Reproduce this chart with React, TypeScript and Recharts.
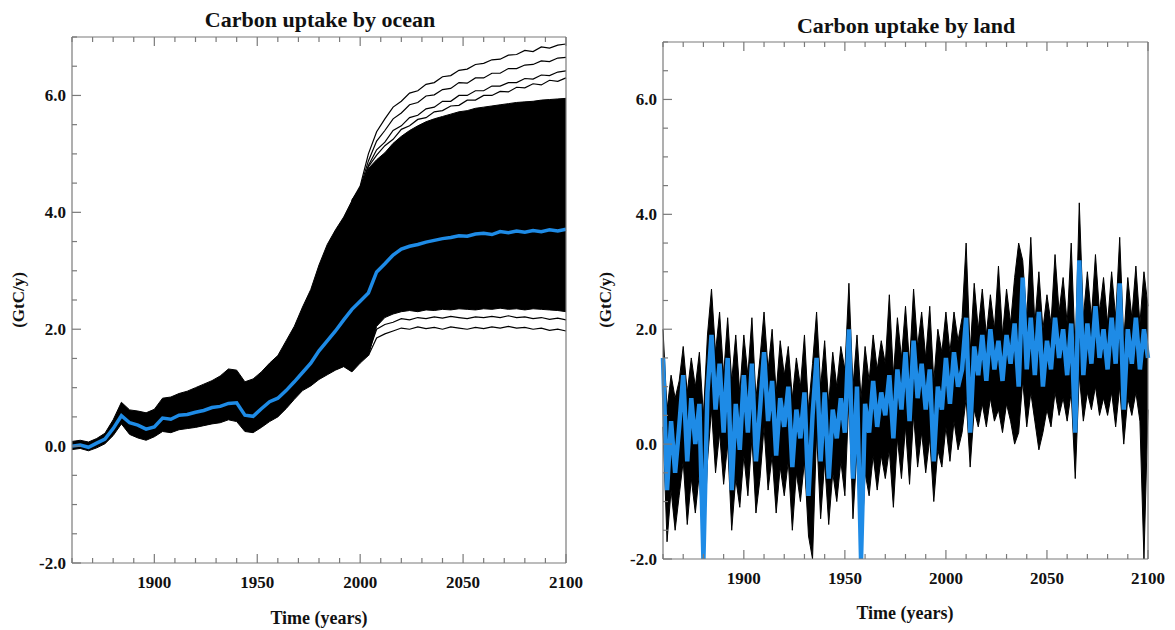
import { ComposedChart, Line, Area, XAxis, YAxis } from "recharts";

const FONT = "'Liberation Serif', 'Times New Roman', serif";
const FRAME = "#7a7a7a";
const BLUE = "#1e8be6";
const INK = "#111";

// axis ticks (minor every 10 years / 0.5 GtC, labels on the major ones)
const YEAR_TICKS = [1860, 1870, 1880, 1890, 1900, 1910, 1920, 1930, 1940, 1950, 1960, 1970, 1980, 1990, 2000, 2010, 2020, 2030, 2040, 2050, 2060, 2070, 2080, 2090, 2100];
const YEAR_LABELS = [1900, 1950, 2000, 2050, 2100];
const VALUE_TICKS = [-2, -1.5, -1, -0.5, 0, 0.5, 1, 1.5, 2, 2.5, 3, 3.5, 4, 4.5, 5, 5.5, 6, 6.5, 7];
const VALUE_LABELS = [-2, 0, 2, 4, 6];

// ---- ocean panel: every 4 years, 1860..2100
const oceanYears = Array.from({ length: 61 }, (_, i) => 1860 + i * 4);
const oceanMean = [
  0.0, 0.02, -0.02, 0.05, 0.12, 0.3, 0.52, 0.4, 0.36, 0.29,
  0.33, 0.48, 0.46, 0.53, 0.54, 0.58, 0.61, 0.66, 0.68, 0.73,
  0.74, 0.53, 0.51, 0.64, 0.76, 0.82, 0.95, 1.1, 1.26, 1.42,
  1.63, 1.8, 1.97, 2.16, 2.34, 2.48, 2.62, 2.98, 3.12, 3.27,
  3.37, 3.42, 3.45, 3.49, 3.52, 3.55, 3.57, 3.6, 3.59, 3.63,
  3.64, 3.62, 3.67, 3.65, 3.68, 3.66, 3.69, 3.67, 3.7, 3.68,
  3.71,
];
const oceanHigh = [
  0.08, 0.1, 0.07, 0.13, 0.22, 0.45, 0.75, 0.62, 0.6, 0.57,
  0.63, 0.82, 0.84, 0.9, 0.94, 1.0, 1.06, 1.12, 1.2, 1.32,
  1.3, 1.1, 1.15, 1.27, 1.42, 1.55, 1.8, 2.05, 2.38, 2.68,
  3.1, 3.45, 3.7, 3.92, 4.2, 4.4, 4.75, 4.9, 5.02, 5.18,
  5.3, 5.4, 5.48, 5.55, 5.6, 5.64, 5.68, 5.72, 5.74, 5.78,
  5.8, 5.82, 5.84, 5.86, 5.88, 5.89, 5.9, 5.92, 5.93, 5.94,
  5.95,
];
const oceanLow = [
  -0.06, -0.04, -0.08, -0.03, 0.04, 0.18, 0.38, 0.2, 0.14, 0.1,
  0.16, 0.25, 0.23, 0.28, 0.3, 0.32, 0.35, 0.38, 0.4, 0.45,
  0.42, 0.25, 0.23, 0.32, 0.42, 0.5, 0.64, 0.8, 0.95, 1.03,
  1.14, 1.22, 1.3, 1.36, 1.27, 1.42, 1.55, 2.05, 2.2, 2.26,
  2.3, 2.32, 2.3, 2.33, 2.32, 2.34, 2.33, 2.35, 2.34, 2.33,
  2.35, 2.34, 2.36, 2.34, 2.35, 2.33, 2.35, 2.34, 2.33, 2.32,
  2.3,
];

// outlying ensemble members that separate from the band after ~2000
const topYears = Array.from({ length: 27 }, (_, i) => 1996 + i * 4);
const oceanTop1 = [4.2, 4.45, 5.0, 5.38, 5.6, 5.8, 5.9, 6.04, 6.08, 6.19, 6.22, 6.32, 6.34, 6.43, 6.45, 6.53, 6.55, 6.61, 6.62, 6.69, 6.7, 6.77, 6.75, 6.83, 6.81, 6.86, 6.88];
const oceanTop2 = [4.2, 4.42, 4.88, 5.22, 5.4, 5.6, 5.7, 5.84, 5.88, 5.99, 6.01, 6.1, 6.12, 6.22, 6.21, 6.3, 6.3, 6.38, 6.38, 6.46, 6.46, 6.52, 6.53, 6.59, 6.58, 6.64, 6.65];
const oceanTop3 = [4.2, 4.4, 4.8, 5.07, 5.2, 5.4, 5.48, 5.62, 5.66, 5.77, 5.8, 5.9, 5.9, 6.0, 6.0, 6.08, 6.08, 6.16, 6.16, 6.22, 6.22, 6.29, 6.28, 6.35, 6.34, 6.4, 6.42];
const oceanTop4 = [4.2, 4.4, 4.78, 4.98, 5.14, 5.25, 5.42, 5.48, 5.59, 5.62, 5.72, 5.74, 5.82, 5.83, 5.92, 5.92, 6.0, 6.0, 6.07, 6.06, 6.14, 6.13, 6.2, 6.18, 6.26, 6.24, 6.3];
const lowYears = Array.from({ length: 25 }, (_, i) => 2004 + i * 4);
const oceanBottom1 = [1.55, 1.85, 1.92, 1.97, 2.02, 2.0, 2.04, 2.01, 2.03, 2.0, 2.04, 2.02, 2.0, 2.03, 2.01, 2.04, 2.02, 2.05, 2.02, 2.03, 2.0, 2.02, 1.98, 2.0, 1.97];
const oceanBottom2 = [1.6, 2.0, 2.08, 2.12, 2.18, 2.16, 2.2, 2.18, 2.21, 2.19, 2.22, 2.2, 2.18, 2.21, 2.2, 2.22, 2.2, 2.23, 2.2, 2.21, 2.18, 2.2, 2.17, 2.19, 2.16];

// ---- land panel: every 2 years, 1860..2100
const landYears = Array.from({ length: 121 }, (_, i) => 1860 + i * 2);
const landMean = [
  1.5, -0.8, 0.4, -0.5, 0.3, 1.2, -0.3, 0.8, 0.0, 0.7,
  -2.0, 0.9, 1.9, 0.6, 1.4, 0.2, 1.5, -0.8, 0.7, -0.1,
  1.2, 0.2, 1.4, -0.3, 0.6, 1.6, 0.4, 1.1, -0.2, 0.8,
  0.3, 1.0, -0.4, 0.6, 0.1, 0.9, -0.9, 0.5, 1.5, -0.3,
  0.9, -0.6, 0.6, 0.1, 0.8, 0.2, 2.0, -0.6, 1.0, -2.0,
  0.7, 0.2, 1.1, 0.3, 0.9, 0.5, 1.2, 0.1, 1.3, 0.6,
  1.6, 0.4, 1.8, 0.8, 1.4, 0.6, 1.3, -0.3, 1.0, 0.6,
  1.5, 0.7, 1.6, 1.0, 1.3, 2.2, 0.2, 1.7, 1.2, 1.9,
  1.1, 2.0, 1.3, 1.8, 1.1, 1.9, 1.4, 2.1, 1.0, 2.9,
  1.3, 2.2, 1.2, 2.3, 1.0, 1.8, 1.3, 2.2, 1.5, 2.0,
  1.2, 2.1, 0.2, 3.2, 1.2, 2.1, 1.4, 2.4, 1.5, 2.0,
  1.3, 2.2, 1.4, 2.8, 0.6, 2.0, 1.4, 2.2, 1.3, 2.0,
  1.5,
];
const landHigh = [
  2.0, 0.6, 1.2, 0.8, 1.1, 1.7, 0.9, 1.5, 1.0, 1.6,
  0.5, 1.9, 2.7, 1.6, 2.3, 1.2, 2.2, 1.1, 1.9, 0.9,
  1.9, 1.2, 2.2, 0.8, 1.5, 2.3, 1.3, 2.0, 0.9, 1.8,
  1.2, 1.7, 0.8, 1.5, 1.0, 1.9, 0.6, 1.4, 2.3, 1.0,
  1.8, 0.7, 1.6, 1.0, 1.7, 1.3, 2.8, 1.0, 1.9, 0.8,
  1.7, 1.1, 1.9, 1.3, 1.8, 1.4, 2.6, 1.2, 2.2, 1.5,
  2.4, 1.4, 2.7, 1.7, 2.3, 1.5, 2.4, 1.1, 2.0, 1.6,
  2.3, 1.6, 2.3, 1.8, 2.2, 3.5, 1.6, 2.8, 2.0, 2.7,
  1.9, 2.6, 2.0, 3.1, 1.9, 2.7, 2.1, 2.9, 3.5, 3.2,
  2.2, 3.6, 2.1, 3.0, 2.0, 2.6, 2.1, 3.3, 2.3, 2.9,
  2.1, 3.5, 1.6, 4.2, 2.2, 3.0, 2.2, 3.3, 2.3, 2.9,
  2.1, 3.0, 2.2, 3.6, 1.8, 2.9, 2.2, 3.1, 2.1, 3.0,
  2.4,
];
const landLow = [
  0.3, -1.7, -0.8, -1.5, -0.9, -0.3, -1.4, -0.6, -1.2, -0.5,
  -2.0, -0.3, 0.6, -0.5, 0.2, -0.7, 0.0, -1.5, -0.6, -1.1,
  -0.2, -0.9, 0.1, -1.2, -0.6, 0.3, -0.8, -0.2, -1.2, -0.4,
  -0.9, -0.3, -1.5, -0.5, -1.0, -0.3, -1.6, -2.0, 0.2, -1.3,
  -0.3, -1.4, -0.5, -1.0, -0.3, -0.9, 0.8, -1.3, -0.1, -2.0,
  -0.5, -0.9, -0.2, -0.8, -0.2, -0.6, -0.1, -1.1, 0.1, -0.6,
  0.3, -0.7, 0.5, -0.4, 0.2, -0.5, 0.1, -1.0, -0.1, -0.4,
  0.3, -0.3, 0.4, -0.1, 0.2, 0.8, -0.4, 0.6, 0.3, 0.7,
  0.3, 0.8, 0.4, 0.6, 0.2, 0.7, 0.4, 0.0, 0.2, 1.1,
  0.3, 0.9, 0.4, -0.1, 0.2, 0.6, 0.3, 0.9, 0.5, 0.8,
  0.4, 0.9, -0.6, 1.2, 0.4, 0.9, 0.6, 1.0, 0.5, 0.8,
  0.5, 0.9, 0.3, 1.0, 0.0, 0.8, 0.5, 0.9, 0.4, -2.0,
  0.6,
];

const pick = (years: number[], values: number[], year: number) => {
  const i = years.indexOf(year);
  return i >= 0 ? values[i] : null;
};

const oceanRows = oceanYears.map((year, i) => ({
  year,
  band: [oceanLow[i], oceanHigh[i]],
  mean: oceanMean[i],
  top1: pick(topYears, oceanTop1, year),
  top2: pick(topYears, oceanTop2, year),
  top3: pick(topYears, oceanTop3, year),
  top4: pick(topYears, oceanTop4, year),
  bot1: pick(lowYears, oceanBottom1, year),
  bot2: pick(lowYears, oceanBottom2, year),
}));

const landRows = landYears.map((year, i) => ({
  year,
  band: [landLow[i], landHigh[i]],
  mean: landMean[i],
}));

const labelStyle = { fontFamily: FONT, fontWeight: 700, fontSize: 17, fill: INK };

function BottomTick({ x, y, payload }: any) {
  const major = YEAR_LABELS.includes(payload.value);
  return (
    <g>
      <line x1={x} x2={x} y1={y} y2={y - (major ? 9 : 5)} stroke={FRAME} strokeWidth={1.2} />
      {major && (
        <text x={x} y={y + 25} textAnchor="middle" {...labelStyle}>
          {payload.value}
        </text>
      )}
    </g>
  );
}

function TopTick({ x, y, payload }: any) {
  const major = YEAR_LABELS.includes(payload.value);
  return <line x1={x} x2={x} y1={y} y2={y + (major ? 9 : 5)} stroke={FRAME} strokeWidth={1.2} />;
}

function LeftTick({ x, y, payload }: any) {
  const major = VALUE_LABELS.includes(payload.value);
  return (
    <g>
      <line x1={x} x2={x + (major ? 9 : 5)} y1={y} y2={y} stroke={FRAME} strokeWidth={1.2} />
      {major && (
        <text x={x - 6} y={y + 6} textAnchor="end" {...labelStyle}>
          {payload.value.toFixed(1)}
        </text>
      )}
    </g>
  );
}

function RightTick({ x, y, payload }: any) {
  const major = VALUE_LABELS.includes(payload.value);
  return <line x1={x} x2={x - (major ? 9 : 5)} y1={y} y2={y} stroke={FRAME} strokeWidth={1.2} />;
}

// axes are 1px thick so they still render; ticks are drawn inward by the tick components
function frameAxes() {
  const axisLine = { stroke: FRAME, strokeWidth: 1.2 };
  return [
    <XAxis key="xb" xAxisId={0} dataKey="year" type="number" domain={[1860, 2100]} ticks={YEAR_TICKS}
      interval={0} height={1} tickSize={0} tickMargin={0} tickLine={false} axisLine={axisLine} tick={<BottomTick />} />,
    <XAxis key="xt" xAxisId="top" orientation="top" dataKey="year" type="number" domain={[1860, 2100]} ticks={YEAR_TICKS}
      interval={0} height={1} tickSize={0} tickMargin={0} tickLine={false} axisLine={axisLine} tick={<TopTick />} />,
    <YAxis key="yl" yAxisId={0} type="number" domain={[-2, 7]} ticks={VALUE_TICKS} allowDataOverflow
      interval={0} width={1} tickSize={0} tickMargin={0} tickLine={false} axisLine={axisLine} tick={<LeftTick />} />,
    <YAxis key="yr" yAxisId="right" orientation="right" type="number" domain={[-2, 7]} ticks={VALUE_TICKS}
      interval={0} width={1} tickSize={0} tickMargin={0} tickLine={false} axisLine={axisLine} tick={<RightTick />} />,
  ];
}

function OceanPanel() {
  const member = { type: "linear" as const, stroke: "#000", strokeWidth: 1.2, dot: false, isAnimationActive: false, connectNulls: false };
  return (
    <ComposedChart width={600} height={630} data={oceanRows} margin={{ top: 36, right: 33, bottom: 66, left: 71 }}>
      {frameAxes()}
      <Area type="linear" dataKey="band" stroke="#000" strokeWidth={1} fill="#000" fillOpacity={1} isAnimationActive={false} />
      <Line dataKey="top1" {...member} />
      <Line dataKey="top2" {...member} />
      <Line dataKey="top3" {...member} />
      <Line dataKey="top4" {...member} />
      <Line dataKey="bot1" {...member} />
      <Line dataKey="bot2" {...member} />
      <Line type="linear" dataKey="mean" stroke={BLUE} strokeWidth={3.5} dot={false} isAnimationActive={false} />
    </ComposedChart>
  );
}

function LandPanel() {
  return (
    <ComposedChart width={575} height={630} data={landRows} margin={{ top: 41, right: 26, bottom: 70, left: 62 }}>
      {frameAxes()}
      <Area type="linear" dataKey="band" stroke="#000" strokeWidth={1} fill="#000" fillOpacity={1} isAnimationActive={false} />
      <Line type="linear" dataKey="mean" stroke={BLUE} strokeWidth={4.5} dot={false} isAnimationActive={false} />
    </ComposedChart>
  );
}

const text = (left: number, top: number, size: number, rotate = 0) => ({
  position: "absolute" as const,
  left,
  top,
  transform: `translate(-50%, -50%) rotate(${rotate}deg)`,
  fontFamily: FONT,
  fontWeight: 700,
  fontSize: size,
  color: INK,
  whiteSpace: "nowrap" as const,
});

export default function App() {
  return (
    <div style={{ position: "absolute", left: 0, top: 0, width: 1175, height: 630, background: "#fff", overflow: "hidden" }}>
      <div style={{ position: "absolute", left: 0, top: 0 }}>
        <OceanPanel />
      </div>
      <div style={{ position: "absolute", left: 600, top: 0 }}>
        <LandPanel />
      </div>
      <div style={text(320, 20, 22)}>Carbon uptake by ocean</div>
      <div style={text(906, 26, 22)}>Carbon uptake by land</div>
      <div style={text(319, 618, 18)}>Time (years)</div>
      <div style={text(905, 613, 18)}>Time (years)</div>
      <div style={text(19, 300, 17, -90)}>(GtC/y)</div>
      <div style={text(606, 300, 17, -90)}>(GtC/y)</div>
    </div>
  );
}
